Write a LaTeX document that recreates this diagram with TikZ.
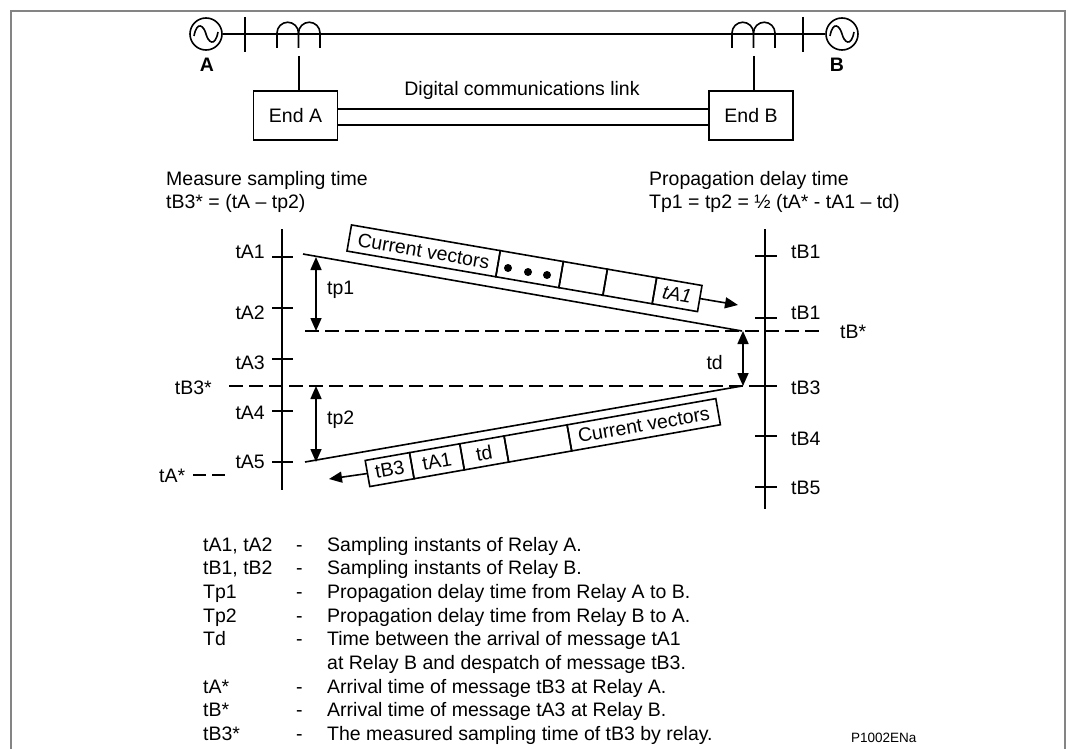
\documentclass[tikz,border=0pt]{standalone}
\usepackage{fontspec}
\setmainfont{Liberation Sans}
\usetikzlibrary{arrows.meta,positioning}
\definecolor{framegray}{RGB}{132,132,132}

\begin{document}
\begin{tikzpicture}[x=1pt,y=-1pt,
    every node/.style={font=\fontsize{19.5}{23}\selectfont, inner sep=0pt},
    wire/.style={line width=1.6pt, black},
    arr/.style={-{Triangle[length=13pt,width=11pt]}, line width=1.6pt},
    darr/.style={{Triangle[length=13pt,width=11pt]}-{Triangle[length=13pt,width=11pt]}, line width=1.6pt},
    dashline/.style={line width=1.6pt, dash pattern=on 14pt off 6pt},
    relay/.style={rectangle, draw, line width=1.6pt, minimum width=84pt, minimum height=49pt},
    src/.style={circle, draw, line width=1.6pt, minimum size=32pt},
    bold/.style={font=\fontsize{19.5}{23}\selectfont\bfseries},
    cell/.style={rectangle, draw, line width=1.6pt, minimum height=26.5pt, anchor=west, outer sep=0pt},
    pktdown/.style={cell, rotate=-9.8},
    pktup/.style={cell, rotate=10},
    keytxt/.style={anchor=base west}]
\useasboundingbox (0,0) rectangle (1068,749);
\draw[framegray, line width=2pt] (11,749) -- (11,11) -- (1065,11) -- (1065,749);
% network at the top
\node[src] (srcA) at (206,34) {};
\node[src] (srcB) at (842,34) {};
\draw[wire] (srcA.east) -- (srcB.west);
\draw[wire] (194,36) .. controls (197,20) and (204,26) .. (206,34) .. controls (208,42) and (215,48) .. (218,32);
\draw[wire] (830,36) .. controls (833,20) and (840,26) .. (842,34) .. controls (844,42) and (851,48) .. (854,32);
\node[bold] (labA) at (207,65) {A};
\node[bold] (labB) at (837,65) {B};
\draw[wire] (245,17) -- (245,52);
\draw[wire] (803,17) -- (803,52);
\foreach \xa in {277,732} {
  \draw[wire] (\xa,48) -- (\xa,33) arc (180:360:10.75) -- ++(0,15);
  \draw[wire] (\xa+21.5,33) arc (180:360:10.75) -- ++(0,15);
  \draw[wire] (\xa+21.5,33) -- ++(0,15);
}
\node[relay] (endA) at (295.5,115.5) {End A};
\node[relay] (endB) at (751,115.5) {End B};
\coordinate (ctA) at (299,56);
\coordinate (ctB) at (754,56);
\draw[wire] (ctA) -- (ctA |- endA.north);
\draw[wire] (ctB) -- (ctB |- endB.north);
\draw[wire] (endA.east |- 0,109) -- (endB.west |- 0,109);
\draw[wire] (endA.east |- 0,125) -- (endB.west |- 0,125);
\node (link) at (522,90) {Digital communications link};
% headings
\node[anchor=west] (meas1) at (166,180) {Measure sampling time};
\node[anchor=west] (meas2) at (166,203) {tB3* = (tA – tp2)};
\node[anchor=west] (prop1) at (649,180) {Propagation delay time};
\node[anchor=west] (prop2) at (649,203) {Tp1 = tp2 = ½ (tA* - tA1 – td)};
% time axes
\draw[wire] (282,229) -- (282,490);
\draw[wire] (765,229) -- (765,509);
\foreach \n/\y/\lab/\ly in {1/257/tA1/252,2/308/tA2/313,3/359/tA3/363,4/411/tA4/413,5/462/tA5/462} {
  \draw[wire] (272,\y) -- (293,\y);
  \node[anchor=east] (la\n) at (265,\ly) {\lab};
}
\foreach \n/\y/\lab/\ly in {1/256/tB1/252,2/318/tB1/313,3/386/tB3/388,4/436/tB4/439,5/487/tB5/488} {
  \draw[wire] (755,\y) -- (777,\y);
  \node[anchor=west] (lb\n) at (791,\ly) {\lab};
}
\coordinate (sendA) at (303,254);
\coordinate (arrB) at (742,331);
\coordinate (sendB) at (742,386);
\coordinate (arrA) at (305,462);
\draw[wire] (sendA) -- (arrB);
\draw[wire] (sendB) -- (arrA);
\draw[dashline] (305,331) -- (822,331);
\draw[dashline] (229,386) -- (777,386);
\node[anchor=west] (tbstar) at (840,332) {tB*};
\node[anchor=east] (tb3star) at (212,388) {tB3*};
\node[anchor=west] (tastar) at (159,476) {tA*};
\draw[line width=1.6pt, dash pattern=on 13pt off 6pt] (193,475) -- (226,475);
% spans
\draw[darr] (316,257) -- (316,331);
\draw[darr] (316,386) -- (316,462);
\draw[darr] (743,331) -- (743,386);
\node[anchor=west] (tp1) at (327,290) {tp1};
\node[anchor=west] (tp2) at (327,420) {tp2};
\node[anchor=east] (td) at (723,363) {td};
% message from A
\node[pktdown, minimum width=151pt] (cvA) at (349.25,238) {Current vectors};
\node[pktdown, minimum width=64pt] (dots) at (cvA.east) {};
\node[pktdown, minimum width=44.7pt] (blankA) at (dots.east) {};
\node[pktdown, minimum width=50pt] (blankB) at (blankA.east) {};
\node[pktdown, minimum width=46pt, font=\fontsize{19.5}{23}\selectfont\itshape] (msgA) at (blankB.east) {tA1};
\fill (508,268) circle (4);
\fill (528,272) circle (4);
\fill (547,275) circle (4);
\coordinate (tipA) at (738,305);
\draw[arr] (msgA.east) -- (tipA);
% message from B
\node[pktup, minimum width=45pt] (msgB) at (367.5,473.5) {tB3};
\node[pktup, minimum width=51pt] (cellA1) at (msgB.east) {tA1};
\node[pktup, minimum width=45pt] (celltd) at (cellA1.east) {td};
\node[pktup, minimum width=64pt] (blankC) at (celltd.east) {};
\node[pktup, minimum width=151pt] (cvB) at (blankC.east) {Current vectors};
\coordinate (tipB) at (329,479);
\draw[arr] (msgB.west) -- (tipB);
% key
\foreach \n/\kk/\txt in {0/{tA1, tA2}/Sampling instants of Relay A.,
    1/{tB1, tB2}/Sampling instants of Relay B.,
    2/Tp1/Propagation delay time from Relay A to B.,
    3/Tp2/Propagation delay time from Relay B to A.,
    4/Td/Time between the arrival of message tA1,
    6/tA*/Arrival time of message tB3 at Relay A.,
    7/tB*/Arrival time of message tA3 at Relay B.,
    8/tB3*/The measured sampling time of tB3 by relay.} {
  \node[keytxt] (kk\n) at (203,551+23.7*\n) {\kk};
  \node[keytxt] (kd\n) at (296,551+23.7*\n) {-};
  \node[keytxt] (kt\n) at (327,551+23.7*\n) {\txt};
}
\node[keytxt] (kt5) at (327,551+23.7*5) {at Relay B and despatch of message tB3.};
\node[anchor=west, font=\fontsize{13.5}{16}\selectfont] (ref) at (851,738) {P1002ENa};
\end{tikzpicture}
\end{document}
